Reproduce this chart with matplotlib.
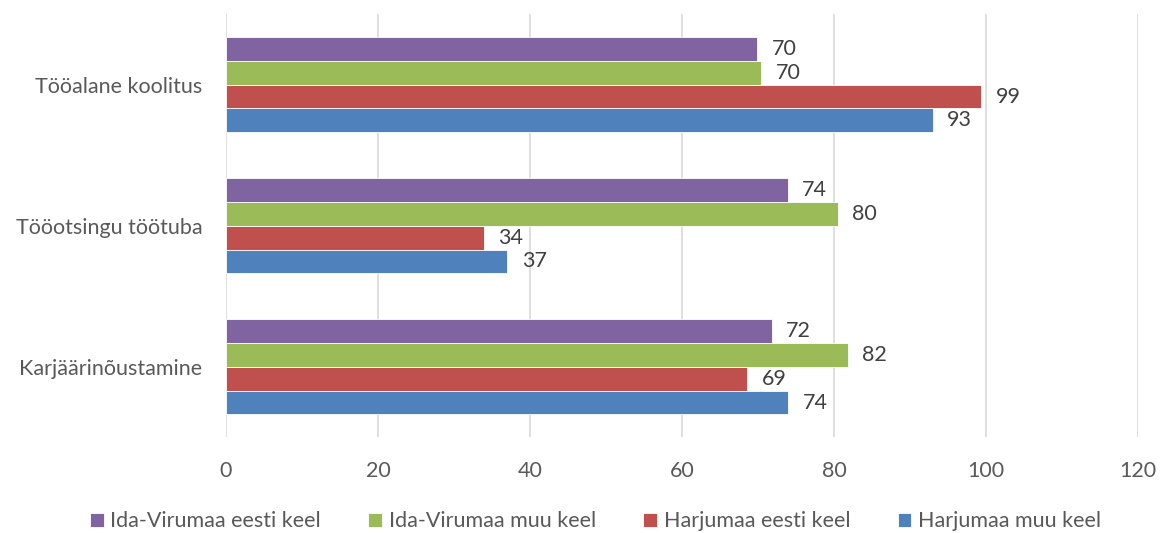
import matplotlib.pyplot as plt
import numpy as np

categories = ["Karjäärinõustamine", "Tööotsingu töötuba", "Tööalane koolitus"]
series_names = ["Harjumaa muu keel", "Harjumaa eesti keel", "Ida-Virumaa muu keel", "Ida-Virumaa eesti keel"]
harju_muu = [74, 37, 93]
harju_eesti = [68.6, 33.9, 99.4]
ida_muu = [81.8, 80.5, 70.4]
ida_eesti = [71.8, 73.9, 69.9]
colors = ["#4F81BD", "#C0504D", "#9BBB59", "#8064A2"]

plt.rcParams['font.family'] = ['Lato', 'DejaVu Sans']
fs = 15.5

fig = plt.figure(figsize=(11.64, 5.33), dpi=100)
ax = fig.add_axes([0.1942, 0.18, 0.7835, 0.7937])

y = np.arange(len(categories))
h = 0.17
handles = []
for i, (vals, name, c) in enumerate(zip([harju_muu, harju_eesti, ida_muu, ida_eesti], series_names, colors)):
    pos = y + (i - 1.5) * h
    bars = ax.barh(pos, vals, height=h, color=c, edgecolor="white", linewidth=0.6, label=name)
    handles.append(bars)
    for p, v in zip(pos, vals):
        ax.text(v + 1.9, p, f"{round(v):.0f}", va="center", ha="left", fontsize=fs, color="#404040")

ax.set_xlim(0, 120)
ax.set_ylim(-0.5, 2.5)
ax.set_xticks(range(0, 121, 20))
ax.set_yticks(y)
ax.set_yticklabels(categories)
ax.tick_params(axis="both", length=0, labelsize=fs, colors="#595959")
ax.tick_params(axis="x", pad=17)
ax.tick_params(axis="y", pad=17)
ax.grid(axis="x", color="#D9D9D9", linewidth=1.2)
ax.set_axisbelow(True)
for s in ax.spines.values():
    s.set_visible(False)

leg = fig.legend(handles[::-1], series_names[::-1], loc="center", bbox_to_anchor=(0.5115, 0.022),
                 ncol=4, frameon=False, fontsize=fs, handlelength=0.65, handleheight=0.65,
                 handletextpad=0.3, columnspacing=2.2)
for t in leg.get_texts():
    t.set_color("#595959")

fig.savefig("out.png", dpi=100)
